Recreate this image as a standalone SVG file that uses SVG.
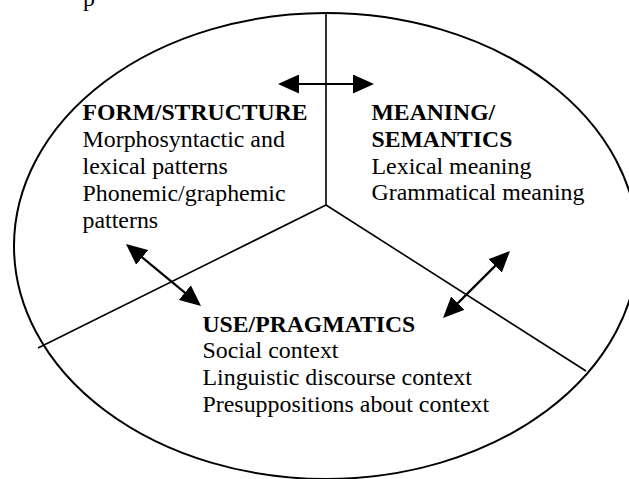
<svg xmlns="http://www.w3.org/2000/svg" width="629" height="479" viewBox="0 0 629 479">
  <style>
    .frame { fill: none; stroke: #000; stroke-width: 2; }
    .divider { fill: none; stroke: #000; stroke-width: 1.6; }
    .link { fill: none; stroke: #000; stroke-width: 2.2; }
    text { font-family: "Liberation Serif", "Times New Roman", serif; font-size: 23.9px; fill: #000; }
    .head { font-weight: bold; font-size: 23.7px; }
  </style>
  <defs>
    <marker id="arrow" viewBox="0 0 21 19" markerUnits="userSpaceOnUse" markerWidth="21" markerHeight="19" refX="11" refY="9.5" orient="auto-start-reverse">
      <path d="M0,0 L21,9.5 L0,19 z" fill="#000"/>
    </marker>
  </defs>

  <rect width="629" height="479" fill="#fff"/>

  <!-- tail of the preceding line of text -->
  <text x="83" y="6">p</text>

  <!-- outer ellipse and the three dividing lines -->
  <g id="frame">
    <ellipse class="frame" cx="326" cy="246" rx="312" ry="233"/>
    <path class="divider" d="M326,13 L326,205 M326,205 L38,348 M326,205 L586,371"/>
  </g>

  <g id="form">
    <text x="82.5" y="120" class="head">FORM/STRUCTURE</text>
    <text x="82.5" y="147">Morphosyntactic and</text>
    <text x="82.5" y="174">lexical patterns</text>
    <text x="82.5" y="201">Phonemic/graphemic</text>
    <text x="82.5" y="228">patterns</text>
  </g>

  <g id="meaning">
    <text x="371.5" y="120" class="head">MEANING/</text>
    <text x="371.5" y="147" class="head">SEMANTICS</text>
    <text x="371.5" y="173.5">Lexical meaning</text>
    <text x="371.5" y="200">Grammatical meaning</text>
  </g>

  <g id="use">
    <text x="202.5" y="331.5" class="head">USE/PRAGMATICS</text>
    <text x="202.5" y="358">Social context</text>
    <text x="202.5" y="385">Linguistic discourse context</text>
    <text x="202.5" y="411.5">Presuppositions about context</text>
  </g>

  <!-- two-way relations between the three areas -->
  <g id="connectors">
    <line class="link" x1="288" y1="84" x2="364" y2="84" marker-start="url(#arrow)" marker-end="url(#arrow)"/>
    <line class="link" x1="133.7" y1="250.4" x2="193.3" y2="299.6" marker-start="url(#arrow)" marker-end="url(#arrow)"/>
    <line class="link" x1="502.9" y1="258.1" x2="450.1" y2="310.9" marker-start="url(#arrow)" marker-end="url(#arrow)"/>
  </g>
</svg>
